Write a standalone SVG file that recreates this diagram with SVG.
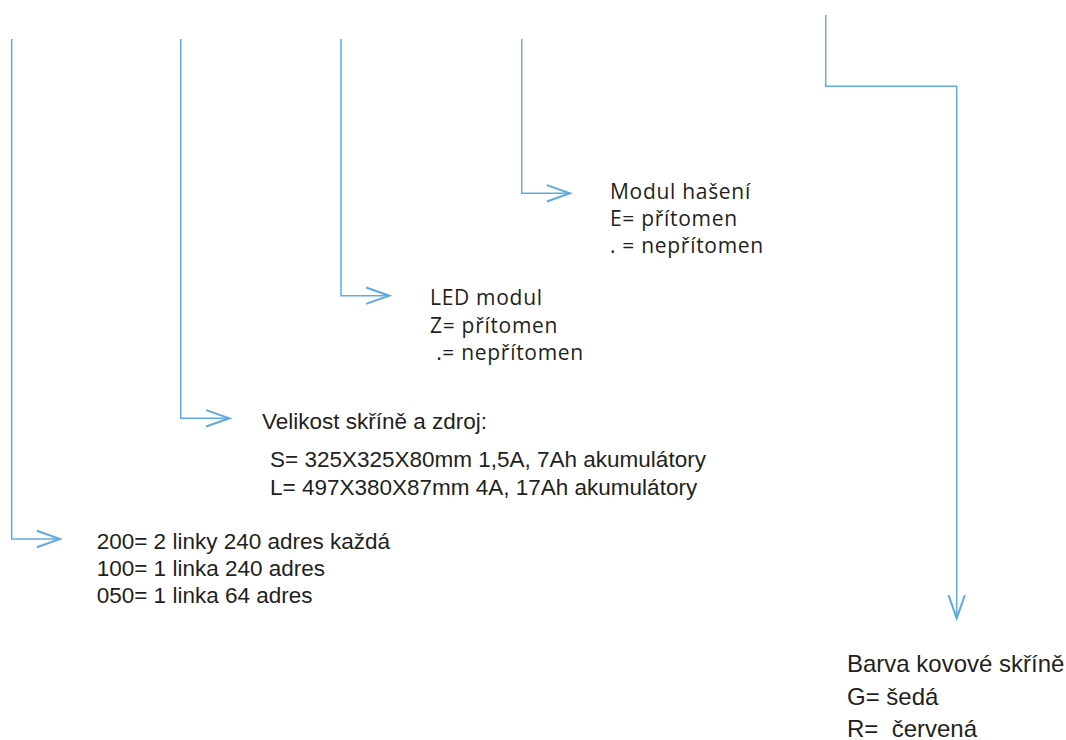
<svg xmlns="http://www.w3.org/2000/svg" width="1066" height="740" viewBox="0 0 1066 740">
<style>
.c{fill:none;stroke:#5FAAE0;stroke-width:1.5}
.a{font-family:"Liberation Sans",Arial,sans-serif;font-size:22.5px;fill:#231f20}
.b{font-family:"Open Sans","Liberation Sans",sans-serif;font-size:21px;letter-spacing:0.7px;fill:#231f20}
.g{font-family:"Liberation Sans",Arial,sans-serif;font-size:24px;fill:#231f20}
</style>
<defs>
<marker id="ar" markerUnits="userSpaceOnUse" markerWidth="30" markerHeight="30" viewBox="-20 -10 22 20" refX="0" refY="0" orient="auto">
<path d="M-17,-6 L0,0 L-17,6" fill="none" stroke="#5FAAE0" stroke-width="1.5"/>
</marker>
</defs>
<rect width="1066" height="740" fill="#fff"/>
<g id="connectors">
<path class="c" d="M11.7,39 V539 H60" marker-end="url(#ar)"/>
<path class="c" d="M180.7,39 V418.3 H229.3" marker-end="url(#ar)"/>
<path class="c" d="M341,39 V295.7 H389.3" marker-end="url(#ar)"/>
<path class="c" d="M521.7,39 V193.3 H570" marker-end="url(#ar)"/>
<path class="c" d="M825.7,15 V86.3 H956.7 V618.3" marker-end="url(#ar)"/>
</g>
<g id="node-linky">
<text class="a" x="96.7" y="549.3">200= 2 linky 240 adres každá</text>
<text class="a" x="96.7" y="576">100= 1 linka 240 adres</text>
<text class="a" x="96.7" y="602.7">050= 1 linka 64 adres</text>
</g>
<g id="node-skrin">
<text class="a" x="262" y="429">Velikost skříně a zdroj:</text>
<text class="a" x="270" y="466.7">S= 325X325X80mm 1,5A, 7Ah akumulátory</text>
<text class="a" x="270" y="495">L= 497X380X87mm 4A, 17Ah akumulátory</text>
</g>
<g id="node-led">
<text class="b" x="430" y="305">LED modul</text>
<text class="b" x="430" y="333">Z= přítomen</text>
<text class="b" x="430" y="360" xml:space="preserve"> .= nepřítomen</text>
</g>
<g id="node-haseni">
<text class="b" x="610" y="199">Modul hašení</text>
<text class="b" x="610" y="226">E= přítomen</text>
<text class="b" x="610" y="253">. = nepřítomen</text>
</g>
<g id="node-barva">
<text class="g" x="847" y="671.7">Barva kovové skříně</text>
<text class="g" x="847" y="705">G= šedá</text>
<text class="g" x="847" y="736.5" xml:space="preserve">R=  červená</text>
</g>
</svg>
